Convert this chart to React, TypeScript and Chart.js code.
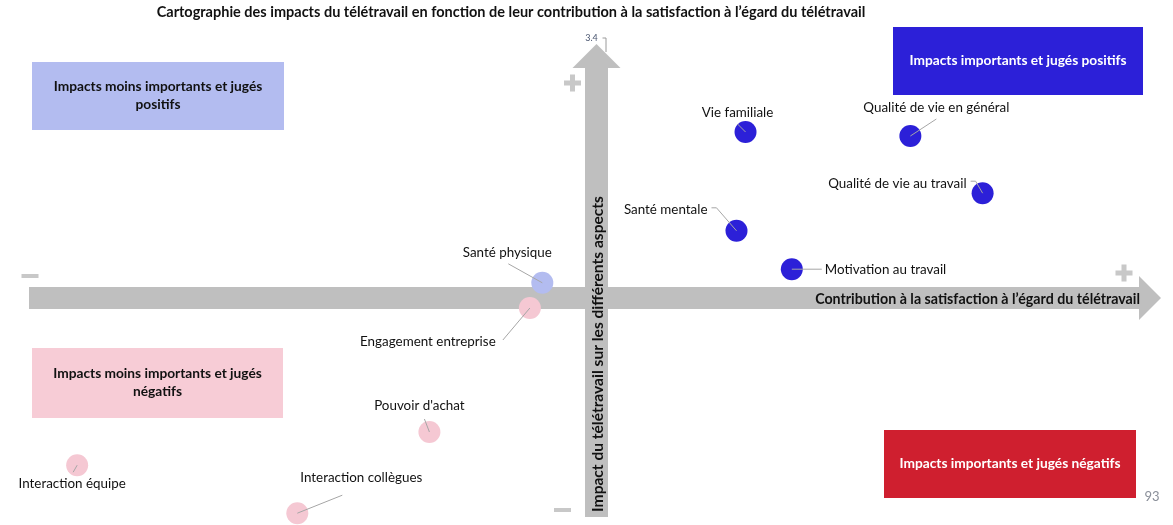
import React, { useEffect, useRef } from "react";
import { Chart, registerables } from "chart.js";

Chart.register(...registerables);

// ---- Data ----
const labels = [
  "Vie familiale",
  "Qualité de vie en général",
  "Qualité de vie au travail",
  "Santé mentale",
  "Motivation au travail",
  "Santé physique",
  "Engagement entreprise",
  "Pouvoir d'achat",
  "Interaction équipe",
  "Interaction collègues",
];
const contribution = [0.132, 0.278, 0.342, 0.124, 0.173, -0.048, -0.059, -0.148, -0.46, -0.265];
const impact = [3.165, 3.155, 3.012, 2.918, 2.822, 2.788, 2.725, 2.415, 2.332, 2.212];
const group = ["pos", "pos", "pos", "pos", "pos", "posMinor", "negMinor", "negMinor", "negMinor", "negMinor"];

const xMin = -0.5;
const xMax = 0.5;
const xCross = 0;
const yMin = 2.2;
const yMax = 3.4;
const yCross = 2.75;
const yTopTick = "3.4";

const title =
  "Cartographie des impacts du télétravail en fonction de leur contribution à la satisfaction à l’égard du télétravail";
const xAxisTitle = "Contribution à la satisfaction à l’égard du télétravail";
const yAxisTitle = "Impact du télétravail sur les différents aspects";
const quadrantTexts = [
  ["Impacts moins importants et jugés", "positifs"],
  ["Impacts importants et jugés positifs"],
  ["Impacts moins importants et jugés", "négatifs"],
  ["Impacts importants et jugés négatifs"],
];
const pageNumber = "93";

// ---- Styles / layout ----
const colors: Record<string, string> = {
  pos: "#2c20d8",
  posMinor: "#b3bcf0",
  negMinor: "#f5c8d3",
};
const ARROW = "#bfbfbf";
const SIGN = "#c8c8c8";
const FONT = "Lato, 'Open Sans', sans-serif";

// label layout relative to point center (px)
type LL = { dx: number; dy: number; align: CanvasTextAlign; leader: number[][] };
const labelLayout: LL[] = [
  { dx: -8, dy: -19, align: "center", leader: [[-8, -8], [0, 0]] },
  { dx: 26, dy: -28, align: "center", leader: [[26, -17], [0, 0]] },
  { dx: -16, dy: -10, align: "right", leader: [[-12, -12], [-7, -12], [0, 0]] },
  { dx: -29, dy: -21, align: "right", leader: [[-25, -23], [-20, -23], [0, 0]] },
  { dx: 33, dy: 0, align: "left", leader: [[30, 0], [0, 0]] },
  { dx: -35, dy: -30, align: "center", leader: [[-34, -19], [0, 0]] },
  { dx: -102, dy: 34, align: "center", leader: [[-27, 32], [0, 0]] },
  { dx: -10, dy: -26, align: "center", leader: [[-5, -13], [0, 0]] },
  { dx: -5, dy: 18, align: "center", leader: [[-4, 7], [0, 0]] },
  { dx: 64, dy: -36, align: "center", leader: [[45, -18], [0, 0]] },
];

const boxes = [
  { x: 32, y: 62, w: 252, h: 68, fill: "#b3bcf0", color: "#111" },
  { x: 893, y: 27, w: 250, h: 68, fill: "#2c20d8", color: "#fff" },
  { x: 32, y: 348, w: 251, h: 70, fill: "#f7ccd6", color: "#111" },
  { x: 884, y: 430, w: 252, h: 68, fill: "#cf1f2f", color: "#fff" },
];

function fitFont(ctx: CanvasRenderingContext2D, text: string, target: number, weight: string) {
  ctx.font = `${weight} 20px ${FONT}`;
  const w = ctx.measureText(text).width;
  const size = (20 * target) / w;
  ctx.font = `${weight} ${size.toFixed(2)}px ${FONT}`;
}

function drawPlus(ctx: CanvasRenderingContext2D, cx: number, cy: number, s: number, t: number) {
  ctx.fillStyle = SIGN;
  ctx.fillRect(cx - s / 2, cy - t / 2, s, t);
  ctx.fillRect(cx - t / 2, cy - s / 2, t, s);
}
function drawMinus(ctx: CanvasRenderingContext2D, cx: number, cy: number, s: number, t: number) {
  ctx.fillStyle = SIGN;
  ctx.fillRect(cx - s / 2, cy - t / 2, s, t);
}

const decor = {
  id: "decor",
  beforeDatasetsDraw(chart: any) {
    const { ctx, chartArea, scales } = chart;
    const xs = scales.x;
    const ys = scales.y;
    const cx = xs.getPixelForValue(xCross);
    const cy = ys.getPixelForValue(yCross);
    ctx.save();

    // title
    ctx.fillStyle = "#111";
    fitFont(ctx, title, 709, "bold");
    ctx.textAlign = "center";
    ctx.textBaseline = "middle";
    ctx.fillText(title, 511, 12);

    // quadrant boxes
    boxes.forEach((b, i) => {
      ctx.fillStyle = b.fill;
      ctx.fillRect(b.x, b.y, b.w, b.h);
      ctx.fillStyle = b.color;
      fitFont(ctx, quadrantTexts[1][0], 217, "bold");
      const lines = quadrantTexts[i];
      const lh = 18;
      const y0 = b.y + b.h / 2 - ((lines.length - 1) * lh) / 2;
      lines.forEach((l, k) => ctx.fillText(l, b.x + b.w / 2, y0 + k * lh));
    });

    // horizontal arrow
    const half = 11;
    const headLen = 22;
    const headHalf = 22;
    const xs0 = chartArea.left - 3;
    const xTip = chartArea.right;
    ctx.fillStyle = ARROW;
    ctx.beginPath();
    ctx.moveTo(xs0, cy - half);
    ctx.lineTo(xTip - headLen, cy - half);
    ctx.lineTo(xTip - headLen, cy - headHalf);
    ctx.lineTo(xTip, cy);
    ctx.lineTo(xTip - headLen, cy + headHalf);
    ctx.lineTo(xTip - headLen, cy + half);
    ctx.lineTo(xs0, cy + half);
    ctx.closePath();
    ctx.fill();

    // vertical arrow
    const yTip = chartArea.top + 6;
    const yBot = chartArea.bottom - 1;
    const vHead = 24;
    ctx.beginPath();
    ctx.moveTo(cx - 11.5, yBot);
    ctx.lineTo(cx - 11.5, yTip + vHead);
    ctx.lineTo(cx - 24, yTip + vHead);
    ctx.lineTo(cx, yTip);
    ctx.lineTo(cx + 24, yTip + vHead);
    ctx.lineTo(cx + 11.5, yTip + vHead);
    ctx.lineTo(cx + 11.5, yBot);
    ctx.closePath();
    ctx.fill();

    // signs
    drawPlus(ctx, cx - 24, chartArea.top + 45, 17, 5);
    drawMinus(ctx, cx - 34, chartArea.bottom - 8, 17, 4);
    drawMinus(ctx, chartArea.left - 2, cy - 22, 17, 4);
    drawPlus(ctx, chartArea.right - 37, cy - 25, 17, 5);

    // top tick
    ctx.strokeStyle = "#9a9a9a";
    ctx.lineWidth = 1;
    ctx.beginPath();
    ctx.moveTo(cx + 6, chartArea.top);
    ctx.lineTo(cx + 9.5, chartArea.top);
    ctx.lineTo(cx + 9.5, chartArea.top + 14);
    ctx.stroke();
    ctx.fillStyle = "#4a5670";
    ctx.font = `9px ${FONT}`;
    ctx.textAlign = "center";
    ctx.fillText(yTopTick, cx - 5, chartArea.top);

    // axis titles
    ctx.fillStyle = "#111";
    fitFont(ctx, xAxisTitle, 325, "bold");
    ctx.textAlign = "right";
    ctx.fillText(xAxisTitle, 1140, cy + 1);
    ctx.save();
    ctx.translate(cx + 1, 354);
    ctx.rotate(-Math.PI / 2);
    ctx.textAlign = "center";
    fitFont(ctx, yAxisTitle, 316, "bold");
    ctx.fillText(yAxisTitle, 0, 0);
    ctx.restore();

    // page number
    ctx.fillStyle = "#8a8f99";
    ctx.font = `13px ${FONT}`;
    ctx.textAlign = "center";
    ctx.fillText(pageNumber, 1152, 497);
    ctx.restore();
  },
  afterDatasetsDraw(chart: any) {
    const { ctx } = chart;
    const meta = chart.getDatasetMeta(0);
    ctx.save();
    meta.data.forEach((pt: any, i: number) => {
      const L = labelLayout[i];
      const px = pt.x;
      const py = pt.y;
      ctx.strokeStyle = "#a6a6a6";
      ctx.lineWidth = 1;
      ctx.beginPath();
      L.leader.forEach((p, k) => {
        if (k === 0) ctx.moveTo(px + p[0], py + p[1]);
        else ctx.lineTo(px + p[0], py + p[1]);
      });
      ctx.stroke();
      ctx.fillStyle = "#111";
      ctx.font = `13.4px ${FONT}`;
      ctx.textAlign = L.align;
      ctx.textBaseline = "middle";
      ctx.fillText(labels[i], px + L.dx, py + L.dy);
    });
    ctx.restore();
  },
};

export default function App() {
  const ref = useRef<HTMLCanvasElement | null>(null);
  useEffect(() => {
    document.body.style.margin = "0";
    const canvas = ref.current!;
    const chart = new Chart(canvas, {
      type: "scatter",
      data: {
        datasets: [
          {
            label: "Impacts",
            data: contribution.map((x, i) => ({ x, y: impact[i] })),
            pointBackgroundColor: group.map((g) => colors[g]),
            pointBorderWidth: 0,
            pointBorderColor: "rgba(0,0,0,0)",
            pointRadius: 11,
            pointHoverRadius: 11,
            clip: false,
          } as any,
        ],
      },
      options: {
        animation: false,
        responsive: false,
        layout: { autoPadding: false, padding: { left: 32, right: 12, top: 38, bottom: 7 } },
        plugins: { legend: { display: false }, tooltip: { enabled: false } },
        scales: {
          x: { type: "linear", min: xMin, max: xMax, display: false },
          y: { type: "linear", min: yMin, max: yMax, display: false },
        },
      },
      plugins: [decor],
    });
    return () => chart.destroy();
  }, []);
  return (
    <div style={{ width: 1173, height: 525 }}>
      <canvas ref={ref} width={1173} height={525} style={{ display: "block" }} />
    </div>
  );
}
